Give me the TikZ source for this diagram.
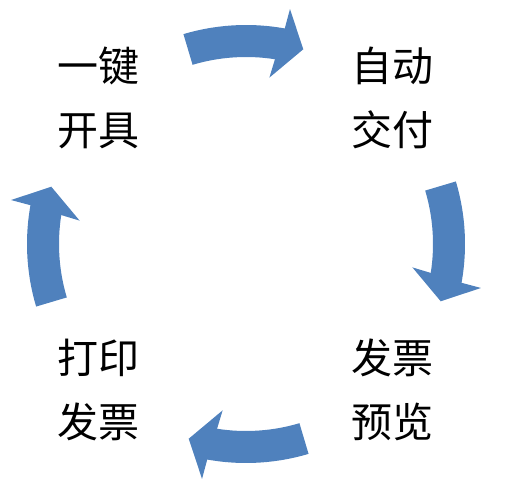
\documentclass[tikz,border=0pt]{standalone}
\usepackage{fontspec}
\newfontfamily\cjk{Noto Sans CJK SC}
\definecolor{arrowblue}{RGB}{79,129,189}
\tikzset{
  cyclearrow/.style={fill=arrowblue, draw=none},
  lbl/.style={align=center, inner sep=0pt, font=\cjk\fontsize{41}{64}\selectfont}
}
\begin{document}
\begin{tikzpicture}[x=1pt,y=1pt]
\useasboundingbox (0,0) rectangle (505,490);
\foreach \k in {0,1,2,3}{
  \begin{scope}[shift={(246,246)}, rotate=-90*\k]
    \fill[cyclearrow] (106.6:219) arc[start angle=106.6, end angle=79.8, radius=219]
      -- (79.4:239) -- (73.6:203) -- (82.0:168) -- (81.1:187)
      arc[start angle=81.1, end angle=106.6, radius=187] -- cycle;
  \end{scope}
}
\node[lbl] (tl) at (98,392) {一键\\开具};
\node[lbl] (tr) at (392,392) {自动\\交付};
\node[lbl] (br) at (392,100) {发票\\预览};
\node[lbl] (bl) at (98,100) {打印\\发票};
\end{tikzpicture}
\end{document}
